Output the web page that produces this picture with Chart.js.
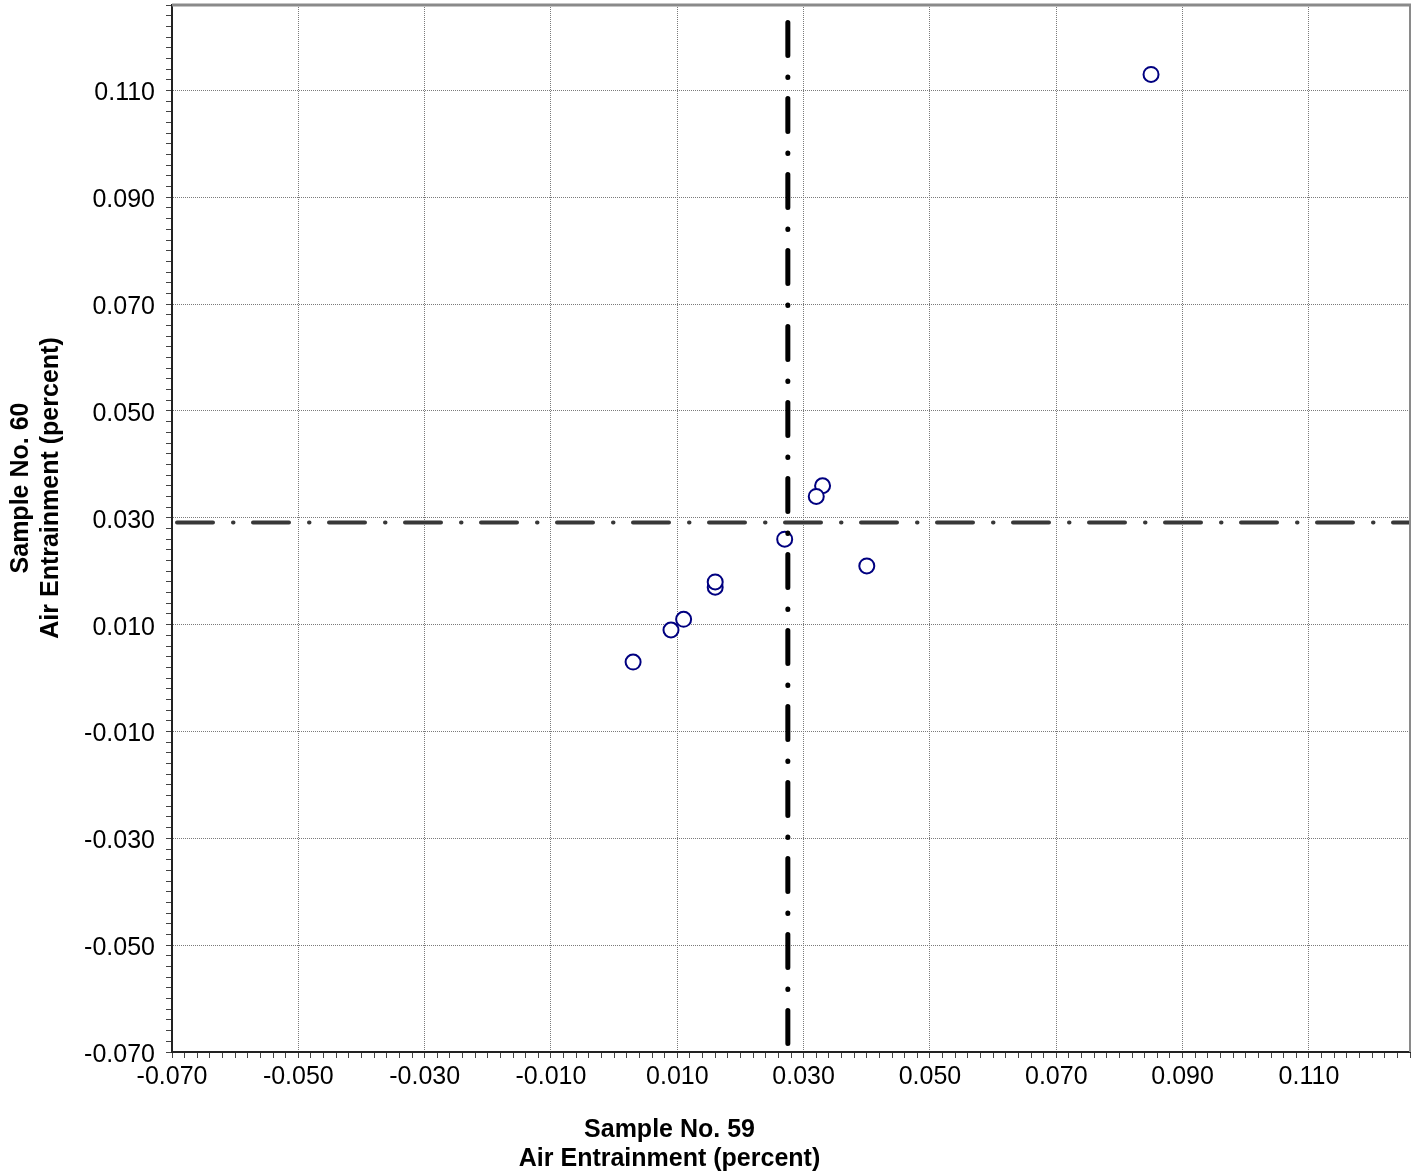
<!DOCTYPE html>
<html>
<head>
<meta charset="utf-8">
<script src="https://cdn.jsdelivr.net/npm/chart.js@4.4.1/dist/chart.umd.min.js"></script>
<style>
  html, body { margin: 0; padding: 0; background: #fff; }
  #wrap { width: 1411px; height: 1173px; }
</style>
</head>
<body>
<div id="wrap"><canvas id="chart" width="1411" height="1173"></canvas></div>
<script>
// Air entrainment (percent): Sample No. 59 on x, Sample No. 60 on y
const sample59 = [0.016, 0.003, 0.011, 0.009, 0.016, 0.027, 0.033, 0.032, 0.040, 0.085];
const sample60 = [0.017, 0.003, 0.011, 0.009, 0.018, 0.026, 0.036, 0.034, 0.021, 0.113];

// Dash-dot reference lines (average of each sample)
const sample59Mean = 0.0275;
const sample60Mean = 0.0291;

// Both axes share the same range and tick layout
const axisMin = -0.070;
const axisMax = 0.126;
const majorTickValues = [-0.070, -0.050, -0.030, -0.010, 0.010, 0.030, 0.050, 0.070, 0.090, 0.110];
const majorTickLabels = ['-0.070', '-0.050', '-0.030', '-0.010', '0.010', '0.030', '0.050', '0.070', '0.090', '0.110'];
const minorTickStep = 0.002;

const xTitleLines = ['Sample No. 59', 'Air Entrainment (percent)'];
const yTitleLines = ['Sample No. 60', 'Air Entrainment (percent)'];

const FONT = '"Liberation Sans", Arial, Helvetica, sans-serif';

const points = sample59.map((x, i) => ({ x: x, y: sample60[i] }));

function majorIndex(v) {
  return majorTickValues.findIndex(m => Math.abs(m - v) < 1e-7);
}

// every minor step gets a tick mark; only the majors get a label and a grid line
function buildTicks(scale) {
  const ticks = [];
  const n = Math.round((axisMax - axisMin) / minorTickStep);
  for (let i = 0; i <= n; i++) {
    ticks.push({ value: +(axisMin + i * minorTickStep).toFixed(4) });
  }
  scale.ticks = ticks;
}

// fixed axis sizes so the plot area sits exactly where it should
function fitAxis(isX) {
  return s => {
    if (isX) { s.height = 121; } else { s.width = 172; }
    s.paddingLeft = 0;
    s.paddingRight = 0;
    s.paddingTop = 0;
    s.paddingBottom = 0;
  };
}

function axisOptions(isX) {
  return {
    type: 'linear',
    min: axisMin,
    max: axisMax,
    afterBuildTicks: buildTicks,
    afterFit: fitAxis(isX),
    ticks: {
      autoSkip: false,
      maxRotation: 0,
      minRotation: 0,
      padding: isX ? 4 : 11,
      labelOffset: isX ? 0 : 3,
      color: '#000',
      font: { family: FONT, size: 25 },
      callback: (v) => {
        const k = majorIndex(v);
        return k < 0 ? '' : majorTickLabels[k];
      }
    },
    grid: {
      color: ctx => (ctx.tick && majorIndex(ctx.tick.value) >= 0) ? '#7a7a7a' : 'rgba(0,0,0,0)',
      lineWidth: 1,
      drawTicks: true,
      tickLength: 6,
      tickWidth: 1,
      tickColor: '#444',
      tickBorderDash: []
    },
    border: { display: true, color: '#222', width: 2, dash: [1, 1] }
  };
}

const overlay = {
  id: 'overlay',
  afterDatasetsDraw(chart) {
    const { ctx, chartArea: a, scales } = chart;
    const px = scales.x.getPixelForValue(sample59Mean);
    const py = scales.y.getPixelForValue(sample60Mean);
    ctx.save();
    ctx.beginPath();
    ctx.rect(a.left, a.top, a.right - a.left, a.bottom - a.top);
    ctx.clip();
    ctx.lineCap = 'round';
    // vertical dash-dot line
    ctx.strokeStyle = '#000';
    ctx.lineWidth = 5;
    ctx.setLineDash([33, 21.5, 0.5, 21]);
    ctx.lineDashOffset = 58.5;
    ctx.beginPath();
    ctx.moveTo(px, a.top);
    ctx.lineTo(px, a.bottom);
    ctx.stroke();
    // horizontal dash-dot line
    ctx.strokeStyle = '#383838';
    ctx.lineWidth = 4;
    ctx.setLineDash([36, 20, 0.5, 19.5]);
    ctx.lineDashOffset = 71;
    ctx.beginPath();
    ctx.moveTo(a.left, py);
    ctx.lineTo(a.right, py);
    ctx.stroke();
    ctx.restore();
  },
  afterDraw(chart) {
    const { ctx, chartArea: a } = chart;
    ctx.save();
    // top and right frame
    ctx.fillStyle = '#8a8a8a';
    ctx.fillRect(a.left, a.top - 1.5, a.right - a.left + 1, 3);
    ctx.fillRect(a.right - 1, a.top, 2, a.bottom - a.top);
    // axis titles
    ctx.fillStyle = '#000';
    ctx.font = 'bold 25px ' + FONT;
    ctx.textAlign = 'center';
    ctx.textBaseline = 'alphabetic';
    const cx = a.left + 497.5;
    ctx.fillText(xTitleLines[0], cx, a.bottom + 85);
    ctx.fillText(xTitleLines[1], cx, a.bottom + 114);
    const cy = a.top + 483;
    [28, 58].forEach((bx, i) => {
      ctx.save();
      ctx.translate(bx, cy);
      ctx.rotate(-Math.PI / 2);
      ctx.fillText(yTitleLines[i], 0, 0);
      ctx.restore();
    });
    ctx.restore();
  }
};

new Chart(document.getElementById('chart'), {
  type: 'scatter',
  data: {
    datasets: [{
      data: points,
      pointStyle: 'circle',
      pointRadius: 7.5,
      pointHoverRadius: 7.5,
      pointBorderWidth: 2,
      pointBorderColor: '#000080',
      pointBackgroundColor: '#ffffff',
      showLine: false
    }]
  },
  options: {
    responsive: false,
    devicePixelRatio: 1,
    animation: false,
    layout: { autoPadding: false, padding: { top: 5, right: 1, left: 0, bottom: 0 } },
    plugins: { legend: { display: false }, tooltip: { enabled: false } },
    scales: { x: axisOptions(true), y: axisOptions(false) }
  },
  plugins: [overlay]
});
</script>
</body>
</html>
